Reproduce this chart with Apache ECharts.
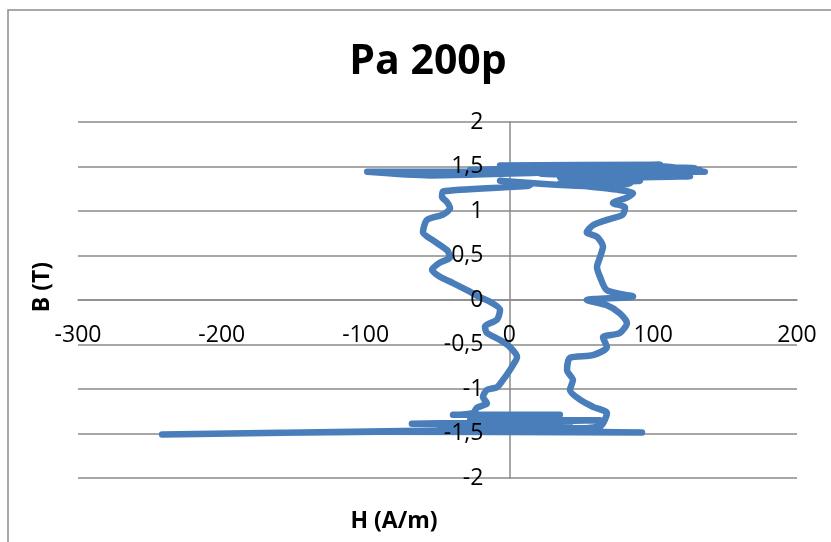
<!DOCTYPE html>
<html>
<head>
<meta charset="utf-8">
<script src="https://cdn.jsdelivr.net/npm/echarts@6/dist/echarts.min.js"></script>
<style>html,body{margin:0;padding:0;background:#fff}#c{width:831px;height:542px}</style>
</head>
<body>
<div id="c"></div>
<script>
const titleText = 'Pa 200p';
const xAxisTitle = 'H (A/m)';
const yAxisTitle = 'B (T)';
const xTicks = [-300, -200, -100, 0, 100, 200];
const yTicks = [-2, -1.5, -1, -0.5, 0, 0.5, 1, 1.5, 2];

const H = [
  58.1, 35.2, 90.8, 63.0, 125.6, 21.3, 132.5, -27.4, 97.8, 135.9, -62.2, -98.9, -55.3, 63.0, 129.0, -6.5, 104.7, 35.2, 125.6, 35.2, 90.8, 49.1, 83.8, 56.0, -6.5, 14.3, -46.2,
  -46.9, -43.4, -41.3, -46.2, -57.3, -60.1, -53.1, -43.4, -41.3, -48.3, -53.8, -48.3, -39.2, -29.5, -20.4, -13.5, -6.5, -8.6, -17.0, -15.6, -6.5, 0.4, 5.3, 1.8, -1.0, -4.5, -8.6, -15.6, -18.4, -15.6, -22.5, -25.3,
  -39.2, 35.1, -27.4, 63.0, -67.8, 42.1, -48.3, 63.0, -62.2, -241.5, -90.0, 92.2, 21.3, 63.0, 67.8,
  58.1, 49.1, 42.1, 44.2, 40.1, 42.1, 58.1, 67.8, 65.1, 76.8, 81.7, 76.8, 67.8, 53.8, 86.0, 67.8, 63.0, 60.9, 63.0, 65.1, 60.9, 53.8, 58.1, 67.8, 78.9, 80.4, 72.0, 81.7, 86.0, 74.8, 58.1
];
const B = [
  1.27, 1.31, 1.34, 1.37, 1.39, 1.42, 1.46, 1.46, 1.51, 1.44, 1.44, 1.44, 1.40, 1.45, 1.48, 1.51, 1.52, 1.48, 1.42, 1.38, 1.36, 1.34, 1.30, 1.28, 1.34, 1.29, 1.22,
  1.16, 1.10, 1.03, 0.96, 0.90, 0.76, 0.67, 0.56, 0.48, 0.42, 0.34, 0.26, 0.19, 0.11, 0.03, -0.02, -0.11, -0.22, -0.30, -0.37, -0.45, -0.53, -0.64, -0.75, -0.82, -0.90, -0.98, -1.01, -1.09, -1.16, -1.21, -1.27,
  -1.29, -1.29, -1.35, -1.35, -1.39, -1.39, -1.44, -1.44, -1.47, -1.51, -1.48, -1.49, -1.46, -1.42, -1.27,
  -1.20, -1.12, -1.01, -0.90, -0.79, -0.65, -0.62, -0.53, -0.42, -0.37, -0.26, -0.15, -0.06, 0.00, 0.04, 0.11, 0.26, 0.37, 0.48, 0.60, 0.71, 0.76, 0.84, 0.90, 0.96, 1.04, 1.09, 1.15, 1.20, 1.24, 1.27
];

const points = H.map((h, i) => [h, B[i]]);
const FONT = '"Open Sans", "DejaVu Sans", sans-serif';
const GRIDC = '#8a8a8a';

// plot box
const G = {left: 78, right: 34, top: 122, bottom: 64};
const plotW = 831 - G.left - G.right;
const plotH = 542 - G.top - G.bottom;
const xMin = xTicks[0], xMax = xTicks[xTicks.length - 1];
const yMin = yTicks[0], yMax = yTicks[yTicks.length - 1];
// axes cross at zero: shift axes inward from their default edges
const yAxisShift = -plotW * (0 - xMin) / (xMax - xMin);
const xAxisShift = -plotH * (0 - yMin) / (yMax - yMin);

const xBase = {type: 'value', position: 'bottom', offset: xAxisShift,
  min: xMin, max: xMax, interval: xTicks[1] - xTicks[0], axisTick: {show: false}, splitLine: {show: false}};
const yBase = {type: 'value', position: 'left', offset: yAxisShift,
  min: yMin, max: yMax, interval: yTicks[1] - yTicks[0], axisTick: {show: false}};

const chart = echarts.init(document.getElementById('c'), null, {renderer: 'canvas'});
chart.setOption({
  animation: false,
  backgroundColor: '#ffffff',
  grid: {left: G.left, right: G.right, top: G.top, bottom: G.bottom, containLabel: false},
  xAxis: [
    Object.assign({}, xBase, {z: 0,
      axisLine: {show: true, onZero: false, lineStyle: {color: GRIDC, width: 1.5}},
      axisLabel: {show: false}}),
    Object.assign({}, xBase, {z: 10,
      axisLine: {show: false, onZero: false},
      axisLabel: {fontFamily: FONT, fontSize: 23, color: '#000', margin: 24, showMinLabel: true, showMaxLabel: true}})
  ],
  yAxis: [
    Object.assign({}, yBase, {z: 0,
      axisLine: {show: true, onZero: false, lineStyle: {color: GRIDC, width: 1.5}},
      splitLine: {show: true, lineStyle: {color: GRIDC, width: 1.5}},
      axisLabel: {show: false}}),
    Object.assign({}, yBase, {z: 10,
      axisLine: {show: false, onZero: false},
      splitLine: {show: false},
      axisLabel: {fontFamily: FONT, fontSize: 23, color: '#000', margin: 26,
        formatter: v => String(v).replace('.', ',')}})
  ],
  series: [{
    type: 'line',
    xAxisIndex: 0, yAxisIndex: 0,
    data: points,
    showSymbol: false,
    smooth: 0.25,
    lineStyle: {color: '#4A7EBB', width: 6.5, cap: 'round', join: 'round'},
    z: 3
  }],
  graphic: [
    {type: 'rect', z: -10, silent: true, shape: {x: 8, y: 10, width: 900, height: 700},
      style: {fill: 'none', stroke: '#8c8c8c', lineWidth: 1.5}},
    {type: 'text', x: 428, y: 62, style: {text: titleText, font: 'bold 41px ' + FONT, fill: '#000', align: 'center', verticalAlign: 'middle'}},
    {type: 'text', x: 394, y: 521, style: {text: xAxisTitle, font: 'bold 23px ' + FONT, fill: '#000', align: 'center', verticalAlign: 'middle'}},
    {type: 'text', x: 42, y: 287, rotation: Math.PI / 2, style: {text: yAxisTitle, font: 'bold 23px ' + FONT, fill: '#000', align: 'center', verticalAlign: 'middle'}}
  ]
});
</script>
</body>
</html>
